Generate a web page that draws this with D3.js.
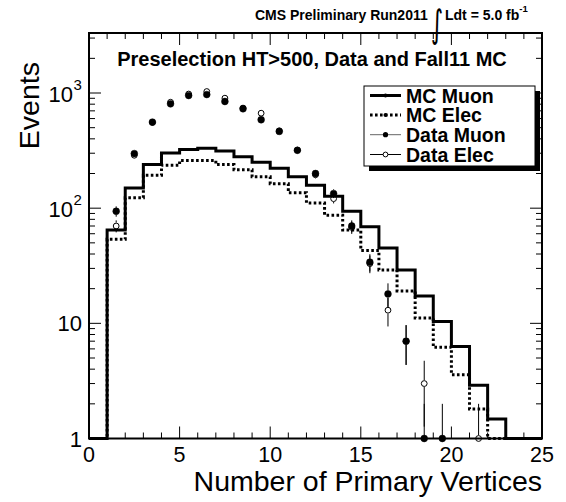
<!DOCTYPE html>
<html>
<head>
<meta charset="utf-8">
<script src="https://cdn.jsdelivr.net/npm/d3@7/dist/d3.min.js"></script>
<style>
  html, body { margin: 0; padding: 0; background: #fff; }
  svg { display: block; }
  text { font-family: "Liberation Sans", Arial, Helvetica, sans-serif; }
</style>
</head>
<body>
<svg id="chart" width="566" height="502"></svg>
<script>
// ---- data ----
const binEdges = d3.range(0, 26);            // 0..25, width 1
const binCenters = d3.range(0.5, 25, 1);     // 0.5..24.5
const mcMuon = [0, 64.5, 150, 239, 301, 324, 331, 313, 280, 250, 222, 187, 158, 127, 94, 69, 45, 29, 17.3, 10.4, 6.3, 2.9, 1.48, 0, 0];
const mcElec = [0, 53.6, 123, 193, 236, 259, 259, 239, 216, 187, 163, 136, 111, 87, 64.5, 43, 29, 19.1, 11.1, 6.2, 3.58, 1.8, 1, 0, 0];
const dataMuon = [0, 94, 298, 559, 805, 951, 970, 844, 730, 586, 464, 318, 200, 134, 70, 34, 18, 7, 1, 1, 0, 0, 0, 0, 0];
const dataElec = [0, 70, 288, 555, 832, 980, 1030, 902, 740, 668, 470, 320, 195, 121, 68, 33, 13, 7, 3, 0, 0, 1, 0, 0, 0];
const xTicks = [0, 5, 10, 15, 20, 25];
const yMajorTicks = [1, 10, 100, 1000];
const legendLabels = ["MC Muon", "MC Elec", "Data Muon", "Data Elec"];

// ---- layout ----
const L = 89, R = 542, T = 33, B = 438.5;
const yMax = 3320;
const svg = d3.select("#chart");
const x = d3.scaleLinear().domain([0, 25]).range([L, R]);
const y = d3.scaleLog().domain([1, yMax]).range([B, T]).clamp(true);
const yv = v => y(Math.max(v, 1));

// ---- histograms ----
function stepData(vals) {
  const pts = vals.map((v, i) => ({ x: binEdges[i], v }));
  pts.push({ x: binEdges[vals.length], v: vals[vals.length - 1] });
  return pts;
}
const stepLine = d3.line().curve(d3.curveStepAfter).x(d => x(d.x)).y(d => yv(d.v));

svg.append("path").attr("d", stepLine(stepData(mcElec)))
  .attr("fill", "none").attr("stroke", "#000").attr("stroke-width", 3)
  .attr("stroke-dasharray", "2.6,2.4");
svg.append("path").attr("d", stepLine(stepData(mcMuon)))
  .attr("fill", "none").attr("stroke", "#000").attr("stroke-width", 3);

// ---- data points ----
const r = 3.4;
function drawData(vals, filled) {
  const g = svg.append("g");
  vals.forEach((v, i) => {
    if (v <= 0) return;
    const cx = x(binCenters[i]);
    const cy = yv(v);
    const e = Math.sqrt(v);
    const yUp = yv(v + e);
    const yLo = (v - e) > 0 ? yv(v - e) : B;
    if (yUp < cy - r) g.append("line").attr("x1", cx).attr("x2", cx).attr("y1", yUp).attr("y2", cy - r)
      .attr("stroke", "#000").attr("stroke-width", 1);
    if (yLo > cy + r) g.append("line").attr("x1", cx).attr("x2", cx).attr("y1", cy + r).attr("y2", yLo)
      .attr("stroke", "#000").attr("stroke-width", 1);
    g.append("circle").attr("cx", cx).attr("cy", cy).attr("r", filled ? r : r - 0.5)
      .attr("fill", filled ? "#000" : "none").attr("stroke", "#000").attr("stroke-width", filled ? 0.5 : 1);
  });
}
drawData(dataMuon, true);
drawData(dataElec, false);

// ---- frame & ticks ----
const axg = svg.append("g").attr("stroke", "#000");
d3.range(0, 26).forEach(t => {
  const len = (t % 5 === 0) ? 12 : 6;
  const px = x(t);
  axg.append("line").attr("x1", px).attr("x2", px).attr("y1", B).attr("y2", B - len).attr("stroke-width", 1);
  axg.append("line").attr("x1", px).attr("x2", px).attr("y1", T).attr("y2", T + len).attr("stroke-width", 1);
});
const yMinor = [];
[1, 10, 100, 1000].forEach(d => { for (let k = 2; k <= 9; k++) if (d * k < yMax) yMinor.push(d * k); });
yMajorTicks.forEach(t => {
  axg.append("line").attr("x1", L).attr("x2", L + 12).attr("y1", y(t)).attr("y2", y(t)).attr("stroke-width", 1);
  axg.append("line").attr("x1", R).attr("x2", R - 12).attr("y1", y(t)).attr("y2", y(t)).attr("stroke-width", 1);
});
yMinor.forEach(t => {
  axg.append("line").attr("x1", L).attr("x2", L + 6).attr("y1", y(t)).attr("y2", y(t)).attr("stroke-width", 1);
  axg.append("line").attr("x1", R).attr("x2", R - 6).attr("y1", y(t)).attr("y2", y(t)).attr("stroke-width", 1);
});
svg.append("rect").attr("x", L).attr("y", T).attr("width", R - L).attr("height", B - T)
  .attr("fill", "none").attr("stroke", "#000").attr("stroke-width", 2);

// x tick labels
xTicks.forEach(t => {
  svg.append("text").attr("x", x(t)).attr("y", 461.5).attr("text-anchor", "middle")
    .attr("font-size", 21.5).text(t);
});
// y tick labels
yMajorTicks.forEach(t => {
  const ty = y(t);
  if (t < 100) {
    svg.append("text").attr("x", 82).attr("y", ty + 8).attr("text-anchor", "end")
      .attr("font-size", 22).text(t);
  } else {
    const ex = Math.round(Math.log10(t));
    svg.append("text").attr("x", 73).attr("y", ty + 9).attr("text-anchor", "end")
      .attr("font-size", 22).text("10");
    svg.append("text").attr("x", 73.5).attr("y", ty - 3).attr("text-anchor", "start")
      .attr("font-size", 15).text(ex);
  }
});

// axis titles
svg.append("text").attr("x", R).attr("y", 491).attr("text-anchor", "end")
  .attr("font-size", 28.5).text("Number of Primary Vertices");
svg.append("text").attr("transform", "translate(39,62) rotate(-90)").attr("text-anchor", "end")
  .attr("font-size", 28.5).text("Events");

// header
svg.append("text").attr("x", 255).attr("y", 19.5).attr("font-size", 14).attr("font-weight", "bold")
  .text("CMS Preliminary Run2011");
svg.append("text").attr("transform", "translate(431,36.5) scale(0.62,1)").attr("font-size", 38)
  .style("font-family", "'DejaVu Sans', sans-serif").text("∫");
const lum = svg.append("text").attr("x", 445).attr("y", 19.5).attr("font-size", 14).attr("font-weight", "bold");
lum.append("tspan").text("Ldt = 5.0 fb");
lum.append("tspan").attr("dy", -7.5).attr("font-size", 9.5).text("-1");

// plot title
svg.append("text").attr("x", 312).attr("y", 66).attr("text-anchor", "middle")
  .attr("font-size", 20).attr("font-weight", "bold")
  .text("Preselection HT>500, Data and Fall11 MC");

// ---- legend ----
const lx = 364, ly = 86, lw = 171, lh = 80;
svg.append("rect").attr("x", lx + 5).attr("y", ly + 5).attr("width", lw).attr("height", lh).attr("fill", "#000");
svg.append("rect").attr("x", lx).attr("y", ly).attr("width", lw).attr("height", lh)
  .attr("fill", "#fff").attr("stroke", "#000").attr("stroke-width", 1);
const baselines = [102.5, 122, 141.7, 161.5];
const legStyles = [
  { w: 3, dash: null, col: "#000", mark: "dot" },
  { w: 3, dash: "2.6,2.4", col: "#000", mark: "dot" },
  { w: 1, dash: null, col: "#666", mark: "filled" },
  { w: 1, dash: null, col: "#000", mark: "open" }
];
legendLabels.forEach((lab, i) => {
  const by = baselines[i];
  const cy = by - 7;
  const s = legStyles[i];
  const ln = svg.append("line").attr("x1", 370).attr("x2", 401).attr("y1", cy).attr("y2", cy)
    .attr("stroke", s.col).attr("stroke-width", s.w);
  if (s.dash) ln.attr("stroke-dasharray", s.dash);
  if (s.mark === "dot") svg.append("circle").attr("cx", 385.5).attr("cy", cy).attr("r", 2).attr("fill", "#000");
  if (s.mark === "filled") svg.append("circle").attr("cx", 385.5).attr("cy", cy).attr("r", 2.6).attr("fill", "#000");
  if (s.mark === "open") svg.append("circle").attr("cx", 385.5).attr("cy", cy).attr("r", 2.4)
    .attr("fill", "#fff").attr("stroke", "#000").attr("stroke-width", 1);
  svg.append("text").attr("x", 406).attr("y", by).attr("font-size", 19.5).attr("font-weight", "bold").text(lab);
});
</script>
</body>
</html>
